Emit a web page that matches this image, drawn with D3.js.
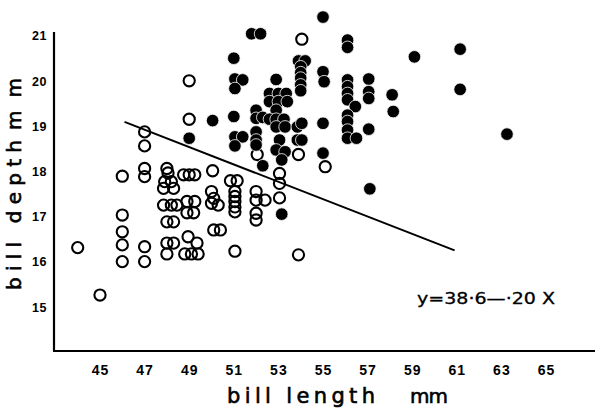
<!DOCTYPE html>
<html>
<head>
<meta charset="utf-8">
<script src="https://cdn.jsdelivr.net/npm/d3@7"></script>
<style>
  body { margin: 0; background: #fff; }
  svg { display: block; }
</style>
</head>
<body>
<div id="chart"></div>
<script>
// open circles (first group)
var openLen = [44.0, 45.0, 46.0, 46.0, 46.0, 46.0, 46.0,
  47.0, 47.0, 47.0, 47.0, 47.0, 47.0,
  48.0, 48.05, 47.9, 48.2, 47.85, 48.3,
  48.75, 49.0, 49.25, 47.85, 48.2, 48.45,
  48.9, 49.25, 48.9, 49.2, 48.0, 48.3,
  48.0, 48.3, 48.0, 48.95, 49.35, 48.8, 49.1, 49.4,
  49.0, 49.0, 50.05, 50.0, 50.1, 50.0, 50.3, 50.1, 50.4,
  50.85, 51.15, 51.05, 51.05, 51.05, 51.05, 51.05, 51.05,
  52.05, 52.0, 52.0, 52.4, 52.0, 52.0,
  53.05, 53.05, 53.05, 53.9, 55.1, 54.05, 53.9];
var openDep = [16.27, 15.22, 17.85, 16.99, 16.62, 16.33, 15.96,
  18.83, 18.52, 18.02, 17.84, 16.29, 15.96,
  18.02, 17.92, 17.73, 17.73, 17.58, 17.58,
  17.88, 17.88, 17.88, 17.21, 17.21, 17.21,
  17.29, 17.29, 17.04, 17.04, 16.84, 16.84,
  16.37, 16.37, 16.13, 16.51, 16.37, 16.13, 16.13, 16.13,
  19.96, 19.11, 17.97, 17.51, 17.36, 17.25, 17.21, 16.66, 16.66,
  17.75, 17.75, 17.51, 17.40, 17.29, 17.17, 17.06, 16.19,
  18.33, 17.51, 17.32, 17.32, 17.03, 16.88,
  17.91, 17.69, 17.37, 18.33, 18.06, 20.88, 16.11];

// filled circles (second group)
var fillLen = [51.8, 52.2, 55.0, 51.0, 51.05, 51.4, 51.05, 52.9,
  49.0, 50.05, 51.0, 51.05, 51.4, 51.05,
  52.6, 53.0, 53.35, 52.6, 53.0, 53.4, 52.0, 52.9,
  52.0, 52.3, 52.6, 52.9, 53.25, 52.9, 53.3,
  52.0, 52.0, 52.0, 53.05, 52.9, 53.3, 53.15, 52.3,
  53.85, 53.85, 53.9, 54.2, 54.0, 54.0, 54.0, 54.0, 54.0,
  55.0, 55.05, 54.05, 54.05, 55.0, 55.0,
  56.1, 56.1, 56.1, 56.1, 56.1, 56.1, 56.45, 56.1, 56.1, 56.1, 56.1, 56.5,
  57.05, 57.05, 57.05, 57.05, 58.1, 58.15, 59.1,
  61.15, 61.15, 63.25, 57.1, 53.15];
var fillDep = [21.0, 21.0, 21.37, 20.46, 20.0, 19.98, 19.79, 19.99,
  18.69, 19.08, 19.17, 18.72, 18.72, 18.52,
  19.68, 19.68, 19.68, 19.50, 19.50, 19.50, 19.31, 19.31,
  19.13, 19.15, 19.11, 19.11, 19.11, 18.94, 18.94,
  18.83, 18.65, 18.54, 18.65, 18.43, 18.39, 18.21, 18.08,
  18.94, 18.65, 20.40, 20.40, 20.27, 20.14, 20.02, 19.87, 19.74,
  20.16, 19.94, 19.02, 18.65, 19.02, 18.36,
  20.86, 20.70, 19.98, 19.83, 19.68, 19.54, 19.39, 19.20, 19.06, 18.87, 18.69, 18.69,
  20.0, 19.72, 19.57, 18.89, 19.65, 19.28, 20.49,
  20.66, 19.77, 18.78, 17.57, 17.01];

// fitted line, end points
var lineLen = [46.1, 60.9];
var lineDep = [19.05, 16.21];

var xTicks = [45, 47, 49, 51, 53, 55, 57, 59, 61, 63, 65];
var yTicks = [15, 16, 17, 18, 19, 20, 21];

var width = 595, height = 409;
var axisX = 54, axisY = 351;

var svg = d3.select('#chart').append('svg')
    .attr('width', width)
    .attr('height', height);

var x = d3.scaleLinear().domain([45, 65]).range([100, 546]);
var y = d3.scaleLinear().domain([15, 21]).range([305, 33.8]);

// axis lines
svg.append('line')
    .attr('x1', axisX).attr('x2', axisX)
    .attr('y1', 32).attr('y2', axisY)
    .attr('stroke', '#000').attr('stroke-width', 2.2);
svg.append('line')
    .attr('x1', axisX - 1).attr('x2', width)
    .attr('y1', axisY).attr('y2', axisY)
    .attr('stroke', '#000').attr('stroke-width', 2.2);

// tick labels
var xAxis = svg.append('g')
    .attr('transform', 'translate(0,' + (axisY + 11) + ')')
    .call(d3.axisBottom(x).tickValues(xTicks).tickFormat(d3.format('d')).tickSize(0).tickPadding(3));
var yAxis = svg.append('g')
    .attr('transform', 'translate(' + (axisX - 7) + ',2)')
    .call(d3.axisLeft(y).tickValues(yTicks).tickFormat(d3.format('d')).tickSize(0).tickPadding(0));
[xAxis, yAxis].forEach(function(g){
    g.select('.domain').remove();
    g.selectAll('text')
        .attr('fill', '#000')
        .style('font-family', 'Liberation Sans, Arial')
        .style('font-weight', 'bold');
});
xAxis.selectAll('text').style('font-size', '14px').style('letter-spacing', '1px');
yAxis.selectAll('text').style('font-size', '12.5px').style('letter-spacing', '0.5px');

// fitted line
svg.append('line')
    .attr('x1', x(lineLen[0])).attr('y1', y(lineDep[0]))
    .attr('x2', x(lineLen[1])).attr('y2', y(lineDep[1]))
    .attr('stroke', '#000').attr('stroke-width', 2);

// open points
svg.append('g').selectAll('circle')
    .data(d3.range(openLen.length))
    .enter().append('circle')
    .attr('cx', function(i){ return x(openLen[i]); })
    .attr('cy', function(i){ return y(openDep[i]); })
    .attr('r', 5.6)
    .attr('fill', 'none')
    .attr('stroke', '#000')
    .attr('stroke-width', 2.1);

// filled points
svg.append('g').selectAll('circle')
    .data(d3.range(fillLen.length))
    .enter().append('circle')
    .attr('cx', function(i){ return x(fillLen[i]); })
    .attr('cy', function(i){ return y(fillDep[i]); })
    .attr('r', 6.3)
    .attr('fill', '#000')
    .attr('stroke', '#fff')
    .attr('stroke-width', 0.8);

// equation
svg.append('text')
    .attr('x', 417).attr('y', 304)
    .attr('textLength', 138).attr('lengthAdjust', 'spacingAndGlyphs')
    .style('font-family', 'DejaVu Sans, Arial')
    .style('font-size', '15px')
    .attr('stroke', '#000').attr('stroke-width', 0.3)
    .text('y=38·6—·20 X');

// axis titles
var labelFont = 'DejaVu Sans, Arial';
function title(t, len, tr, size){
    svg.append('text')
        .attr('transform', tr)
        .attr('textLength', len).attr('lengthAdjust', 'spacing')
        .style('font-family', labelFont).style('font-size', size + 'px')
        .attr('stroke', '#000').attr('stroke-width', 0.6)
        .text(t);
}
title('bill length', 148, 'translate(227,403)', 21);
title('mm', 38, 'translate(410,403)', 20);
title('bill depth', 150, 'translate(21,290) rotate(-90)', 20);
title('mm', 52, 'translate(21,130) rotate(-90)', 20);
</script>
</body>
</html>
